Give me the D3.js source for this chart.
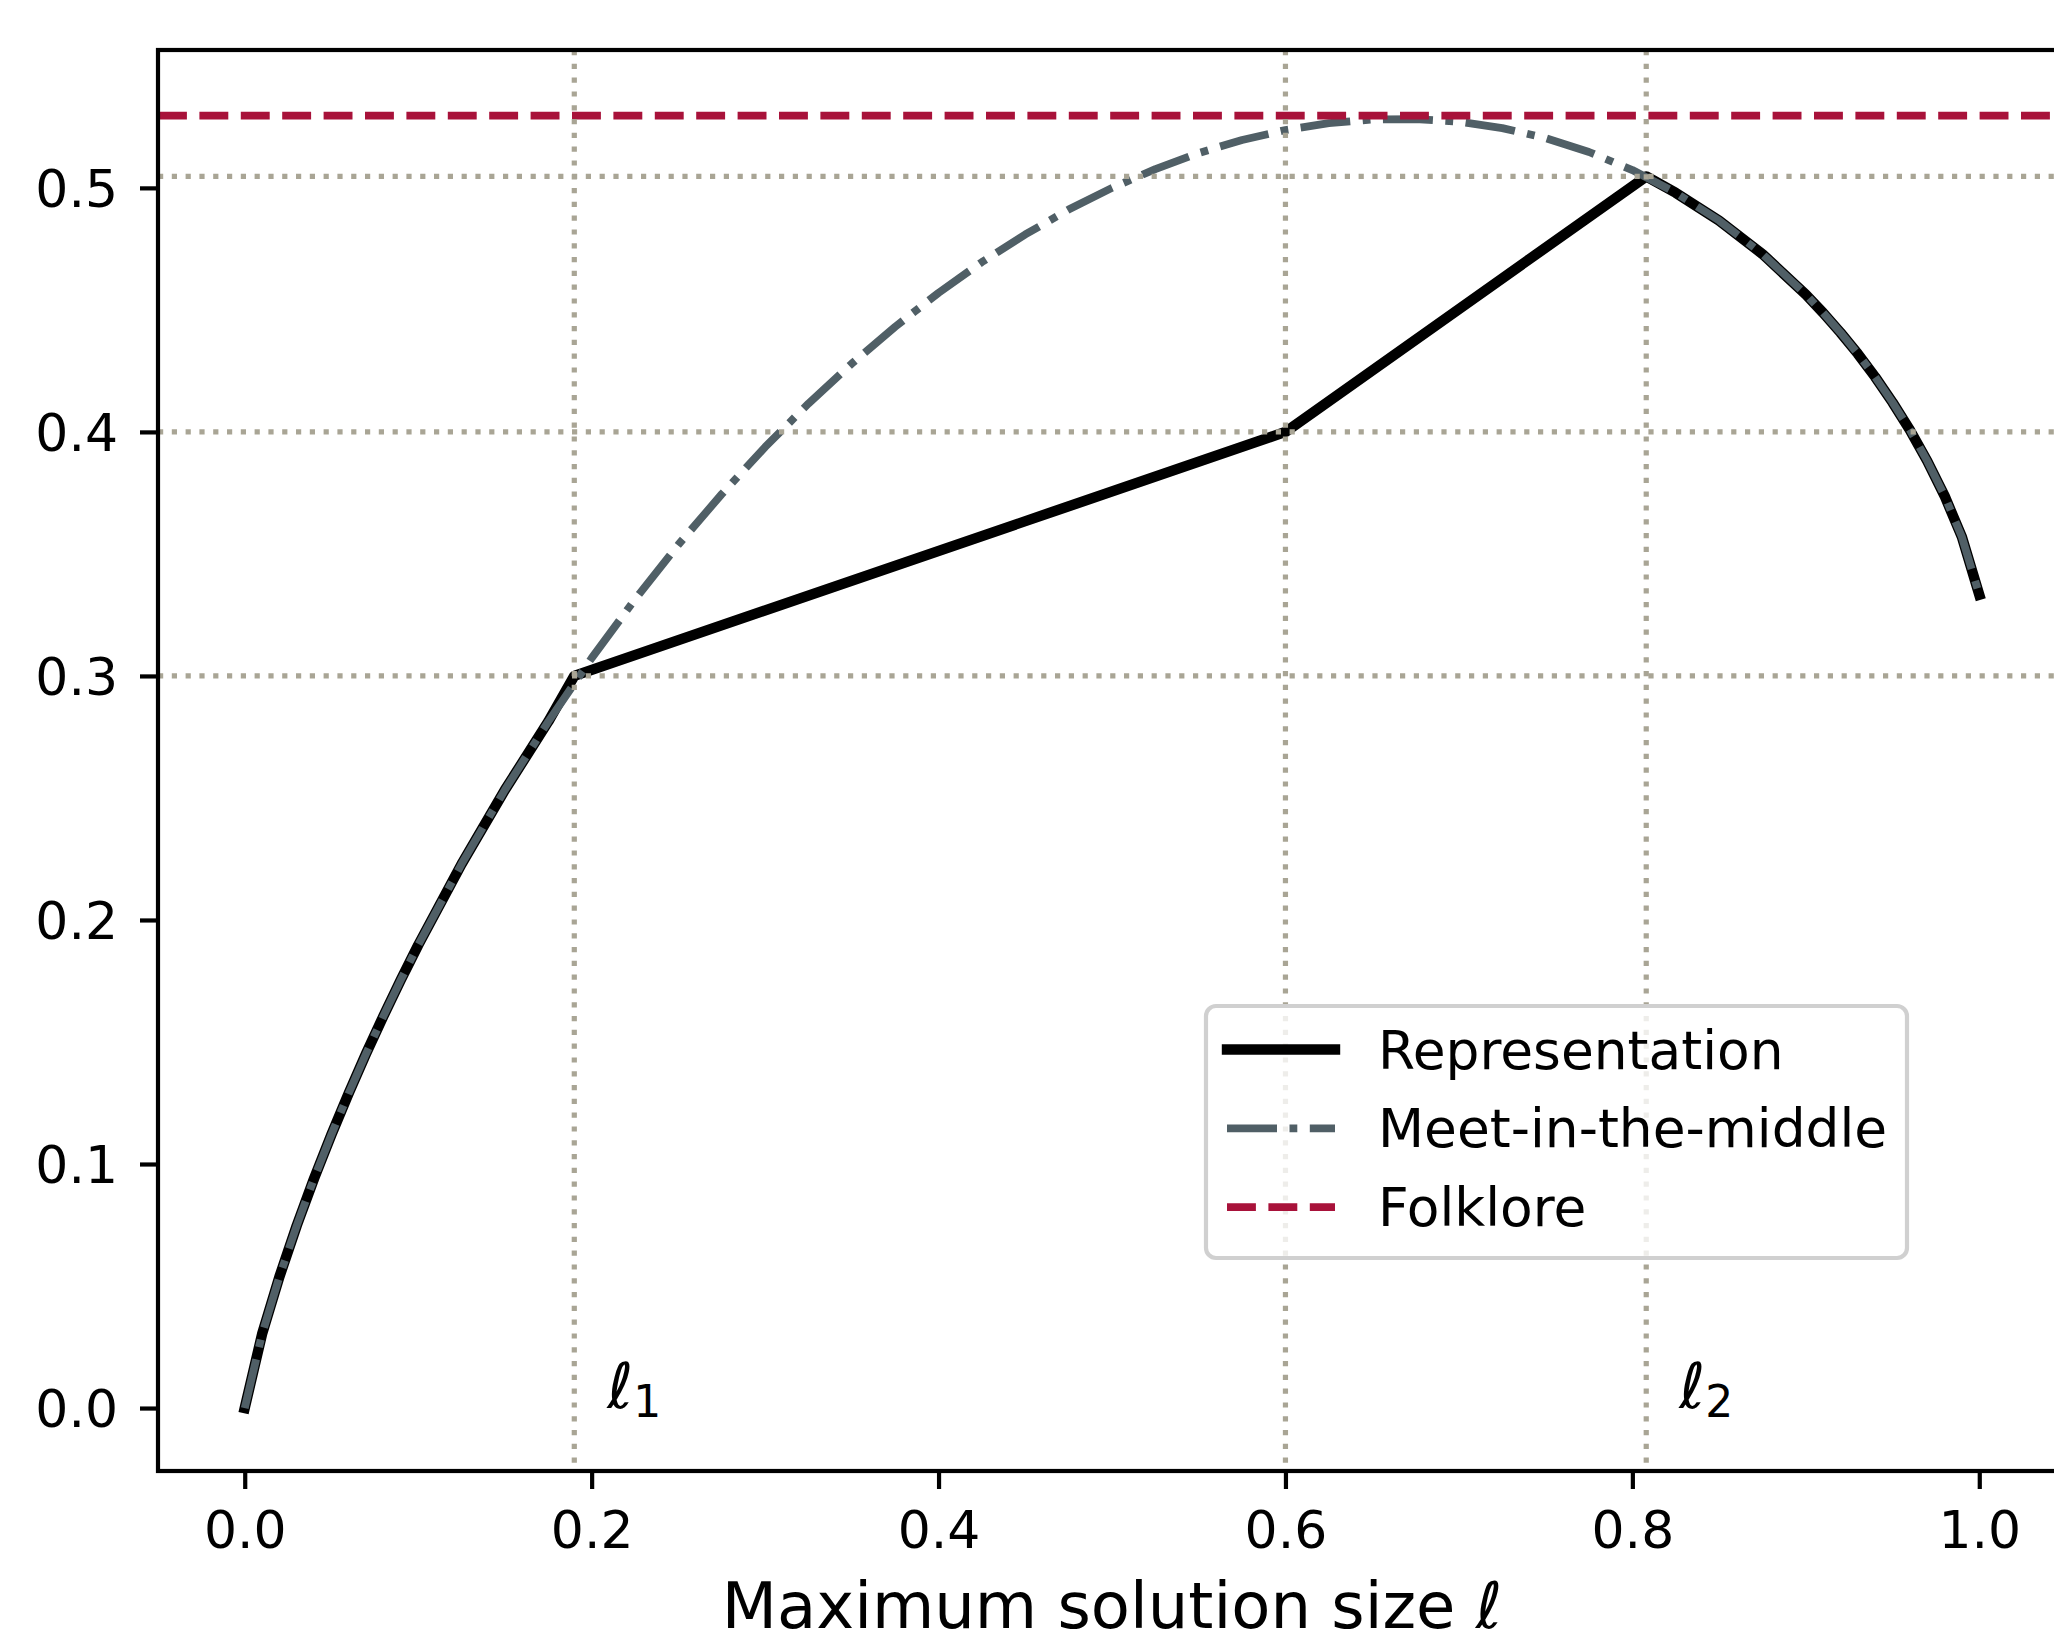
<!DOCTYPE html>
<html>
<head>
<meta charset="utf-8">
<script src="https://cdn.jsdelivr.net/npm/d3@7"></script>
<style>
  body { margin: 0; background: #fff; }
  svg { display: block; font-family: "DejaVu Sans", sans-serif; }
</style>
</head>
<body>
<div id="chart"></div>
<script>
// meet-in-the-middle curve
const mitmL = [0, 0.01, 0.02, 0.03, 0.04, 0.05, 0.06, 0.07, 0.08, 0.09, 0.1,
  0.125, 0.15, 0.175, 0.2, 0.225, 0.25, 0.275, 0.3, 0.325, 0.35, 0.375, 0.4,
  0.425, 0.45, 0.475, 0.5, 0.525, 0.55, 0.575, 0.6, 0.625, 0.65, 0.675, 0.7,
  0.725, 0.75, 0.775, 0.8, 0.825, 0.85, 0.875, 0.9,
  0.91, 0.92, 0.93, 0.94, 0.95, 0.96, 0.97, 0.98, 0.99, 1.0]
const mitmY = [0, 0.0303, 0.0538, 0.0748, 0.0941, 0.1121, 0.1291, 0.1453, 0.1607, 0.1755, 0.1897,
  0.2229, 0.2533, 0.2813, 0.3073, 0.3314, 0.3538, 0.3745, 0.3938, 0.4116, 0.4280, 0.4431, 0.4570,
  0.4696, 0.4809, 0.4911, 0.5000, 0.5077, 0.5143, 0.5196, 0.5237, 0.5265, 0.5280, 0.5282, 0.5271,
  0.5245, 0.5204, 0.5147, 0.5073, 0.4980, 0.4866, 0.4729, 0.4563,
  0.4488, 0.4407, 0.4320, 0.4225, 0.4121, 0.4008, 0.3881, 0.3738, 0.3569, 0.3333]

// representation: follows mitm up to l1, straight pieces, then mitm again after l2
const reprKnotL = [0.19, 0.6, 0.808]
const reprKnotY = [0.3, 0.4, 0.5047]
const folkloreY = 0.5296

const xTicks = [0, 0.2, 0.4, 0.6, 0.8, 1.0]
const yTicks = [0, 0.1, 0.2, 0.3, 0.4, 0.5]
const seriesNames = ["Representation", "Meet-in-the-middle", "Folklore"]
const markerSubs = ["1", "2"]

const width = 2054, height = 1636
const plotLeft = 158, plotTop = 50, plotBottom = 1471, plotRight = 2066

const x = d3.scaleLinear([-0.05, 1.05], [plotLeft, plotRight])
const y = d3.scaleLinear([-0.0258, 0.5565], [plotBottom, plotTop])

const mitm = mitmL.map((l, i) => [l, mitmY[i]])
const knots = reprKnotL.map((l, i) => [l, reprKnotY[i]])
const repr = mitm.filter(d => d[0] < reprKnotL[0])
  .concat(knots)
  .concat(mitm.filter(d => d[0] > reprKnotL[2]))

const colors = { repr: "#000000", mitm: "#505f66", folk: "#a8123a", grid: "#a9a595" }

const svg = d3.select("#chart").append("svg")
    .attr("width", width)
    .attr("height", height)
    .attr("viewBox", [0, 0, width, height])

svg.append("defs").append("clipPath").attr("id", "plot")
  .append("rect").attr("x", plotLeft).attr("y", plotTop)
  .attr("width", plotRight - plotLeft).attr("height", plotBottom - plotTop)

const line = d3.line().x(d => x(d[0])).y(d => y(d[1]))
const plot = svg.append("g").attr("clip-path", "url(#plot)")

plot.append("path")
    .attr("fill", "none")
    .attr("stroke", colors.repr)
    .attr("stroke-width", 10.4)
    .attr("stroke-linejoin", "round")
    .attr("stroke-linecap", "square")
    .attr("d", line(repr))

plot.append("path")
    .attr("fill", "none")
    .attr("stroke", colors.mitm)
    .attr("stroke-width", 7.8)
    .attr("stroke-linejoin", "round")
    .attr("stroke-dasharray", "50,12.5,7.8,12.5")
    .attr("d", line(mitm))

plot.append("line")
    .attr("x1", plotLeft).attr("x2", plotRight)
    .attr("y1", y(folkloreY)).attr("y2", y(folkloreY))
    .attr("stroke", colors.folk)
    .attr("stroke-width", 7.8)
    .attr("stroke-dasharray", "28.9,12.5")

// dotted guide lines at the break points
plot.selectAll(".vguide").data(reprKnotL).join("line")
    .attr("x1", d => x(d)).attr("x2", d => x(d))
    .attr("y1", plotTop).attr("y2", plotBottom)
    .attr("stroke", colors.grid)
    .attr("stroke-width", 5.2)
    .attr("stroke-dasharray", "5.2,8.6")
plot.selectAll(".hguide").data(reprKnotY).join("line")
    .attr("x1", plotLeft).attr("x2", plotRight)
    .attr("y1", d => y(d)).attr("y2", d => y(d))
    .attr("stroke", colors.grid)
    .attr("stroke-width", 5.2)
    .attr("stroke-dasharray", "5.2,8.6")

// l1 / l2 labels
const marks = [reprKnotL[0], reprKnotL[2]]
marks.forEach((l, i) => {
  const t = svg.append("text")
      .attr("x", x(l + 0.019))
      .attr("y", y(0))
      .attr("font-size", 63)
      .attr("fill", "#000")
  t.append("tspan").attr("font-style", "italic").text("ℓ")
  t.append("tspan").attr("font-size", 44).attr("dy", 9).text(markerSubs[i])
})

// axes
const xAxis = d3.axisBottom(x).tickValues(xTicks).tickFormat(d3.format(".1f"))
    .tickSize(18).tickPadding(22)
const yAxis = d3.axisLeft(y).tickValues(yTicks).tickFormat(d3.format(".1f"))
    .tickSize(18).tickPadding(22)

svg.append("g")
    .attr("transform", `translate(0,${plotBottom})`)
    .call(xAxis)
    .call(g => g.select(".domain").remove())
    .call(g => g.selectAll(".tick line").attr("stroke-width", 4.2))
    .call(g => g.selectAll(".tick text").attr("font-size", 52).attr("font-family", "DejaVu Sans"))

svg.append("g")
    .attr("transform", `translate(${plotLeft},0)`)
    .call(yAxis)
    .call(g => g.select(".domain").remove())
    .call(g => g.selectAll(".tick line").attr("stroke-width", 4.2))
    .call(g => g.selectAll(".tick text").attr("font-size", 52).attr("dy", "0.36em").attr("font-family", "DejaVu Sans"))

svg.append("rect")
    .attr("x", plotLeft).attr("y", plotTop)
    .attr("width", plotRight - plotLeft).attr("height", plotBottom - plotTop)
    .attr("fill", "none")
    .attr("stroke", "#000")
    .attr("stroke-width", 4.2)

const xl = svg.append("text")
    .attr("x", (plotLeft + plotRight) / 2)
    .attr("y", 1628)
    .attr("text-anchor", "middle")
    .attr("font-size", 64)
xl.append("tspan").text("Maximum solution size ")
xl.append("tspan").attr("font-style", "italic").text("ℓ")

// legend
const lg = svg.append("g")
lg.append("rect")
    .attr("x", 1206).attr("y", 1006)
    .attr("width", 701).attr("height", 252)
    .attr("rx", 10)
    .attr("fill", "#fff").attr("fill-opacity", 0.8)
    .attr("stroke", "#d0d0d0").attr("stroke-width", 4.2)

const legendStyle = [
  { c: colors.repr, w: 10.4, dash: null, cap: "square" },
  { c: colors.mitm, w: 7.8, dash: "50,12.5,7.8,12.5", cap: "butt" },
  { c: colors.folk, w: 7.8, dash: "28.9,12.5", cap: "butt" }
]
seriesNames.forEach((name, i) => {
  const cy = 1049.5 + i * 78.8
  const s = legendStyle[i]
  lg.append("line")
      .attr("x1", 1227).attr("x2", 1335)
      .attr("y1", cy).attr("y2", cy)
      .attr("stroke", s.c).attr("stroke-width", s.w)
      .attr("stroke-linecap", s.cap)
      .attr("stroke-dasharray", s.dash)
  lg.append("text")
      .attr("x", 1378).attr("y", cy + 19)
      .attr("font-size", 53.4)
      .text(name)
})
</script>
</body>
</html>
